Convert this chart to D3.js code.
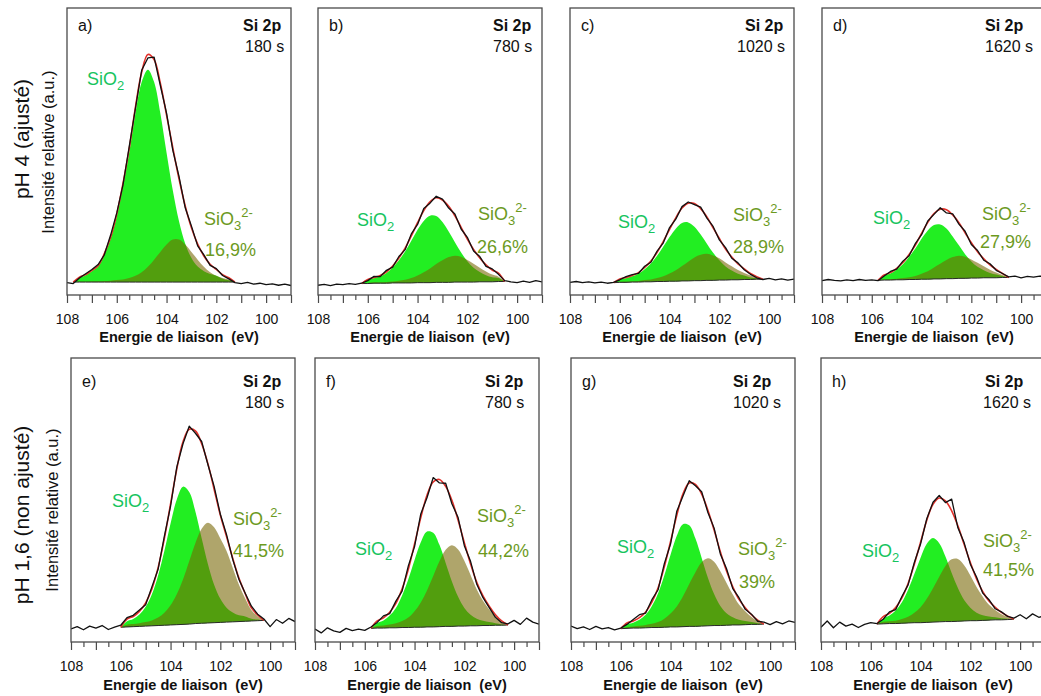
<!DOCTYPE html>
<html><head><meta charset="utf-8">
<script src="https://cdn.jsdelivr.net/npm/d3@7"></script>
<style>
body{margin:0;background:#fff}
svg{display:block;font-family:"Liberation Sans",Arial,sans-serif}
</style>
</head><body>
<svg id="chart" width="1041" height="696"></svg>
<script>
// ---------------- DATA ----------------
const energies = [108,107.75,107.5,107.25,107,106.75,106.5,106.25,106,105.75,105.5,105.25,105,104.75,104.5,104.25,104,103.75,103.5,103.25,103,102.75,102.5,102.25,102,101.75,101.5,101.25,101,100.75,100.5,100.25,100,99.75,99.5,99.25,99];
const xTickLabels = [108,106,104,102,100];
const panelLetters = ['a)','b)','c)','d)','e)','f)','g)','h)'];
const times = ['180 s','780 s','1020 s','1620 s','180 s','780 s','1020 s','1620 s'];
const sio3Pct = ['16,9%','26,6%','28,9%','27,9%','41,5%','44,2%','39%','41,5%'];
const rowLabels = ['pH 4 (ajusté)','pH 1,6 (non ajusté)'];
const yTitle = 'Intensité relative (a.u.)';
const xTitle = 'Energie de liaison  (eV)';
const coreLevel = 'Si 2p';
const fitStart = [107.75,106.25,106.25,105.75,106.0,105.75,106.0,105.75];

// raw spectra (relative intensity, % of frame), one value per energy
const rawA = [4.3,4.0,5.9,7.4,8.9,10.6,14.0,20.8,28.6,38.4,51.7,65.0,78.3,82.6,82.9,73.0,63.4,50.5,41.3,30.4,24.0,17.1,14.0,10.3,9.2,6.8,5.6,4.3,4.0,4.4,3.8,4.1,3.6,3.9,3.4,3.8,3.3];
const rawB = [3.4,3.7,3.3,3.8,3.6,4.0,3.7,4.1,5.0,6.5,6.4,8.6,9.7,13.4,15.8,21.3,24.6,30.1,32.0,34.4,33.4,30.3,28.2,23.0,20.1,15.3,13.4,10.0,9.1,7.2,5.0,4.6,4.3,4.8,4.4,5.0,4.6];
const rawC = [4.4,4.7,4.3,4.6,4.2,4.5,4.1,4.4,5.3,6.4,7.1,7.5,10.0,11.4,15.3,18.2,23.5,26.4,30.8,32.4,31.5,30.6,26.8,23.9,19.2,16.5,12.8,11.2,8.8,7.2,6.0,5.4,5.8,5.3,5.6,5.2,5.5];
const rawD = [5.0,5.4,5.1,4.9,5.3,5.0,5.4,5.1,5.3,5.0,6.6,8.2,9.0,11.8,13.7,17.9,21.0,25.8,28.1,30.4,28.6,28.3,24.7,22.2,17.6,15.5,12.1,10.9,8.6,7.5,6.3,6.6,6.0,6.5,6.2,6.6,6.3];
const rawE = [4.6,5.4,4.3,5.6,4.9,5.8,4.4,5.2,5.9,8.6,9.4,11.3,13.1,19.4,25.6,37.2,47.8,61.6,69.8,76.0,73.5,70.6,62.5,54.8,45.0,37.8,29.0,22.0,17.2,12.6,9.8,8.1,5.4,7.9,6.6,8.3,7.2];
const rawF = [4.6,3.2,5.0,3.9,3.4,4.8,4.0,4.5,4.1,5.3,6.9,9.2,10.0,14.4,17.9,26.8,33.6,45.1,50.8,57.9,56.0,55.9,48.7,43.8,33.9,28.4,20.3,15.6,12.1,8.7,6.8,6.4,7.6,6.2,8.4,7.0,6.3];
const rawG = [5.6,4.7,5.3,4.4,5.5,4.6,5.1,4.3,4.9,6.2,7.9,9.6,10.2,14.9,18.4,27.6,34.5,46.0,51.4,56.8,55.0,52.9,45.6,40.1,31.0,25.8,18.8,15.6,11.5,9.8,7.3,7.0,6.1,7.2,6.4,7.4,6.9];
const rawH = [5.2,7.4,5.0,7.0,5.6,6.3,5.1,6.2,6.8,6.5,8.0,10.6,11.4,16.0,20.1,28.0,34.5,43.4,49.2,51.6,49.1,50.3,40.2,35.0,27.4,22.9,17.2,14.9,11.7,10.6,9.0,8.4,9.6,8.2,9.9,8.7,9.2];

// backgrounds over the fit range (starting at fitStart)
const bgA = [4.5,4.5,4.5,4.5,4.5,4.5,4.5,4.5,4.5,4.5,4.5,4.5,4.5,4.5,4.5,4.5,4.5,4.5,4.5,4.5,4.5,4.5,4.5,4.5,4.5,4.5,4.5];
const bgB = [4.0,4.0,4.1,4.1,4.1,4.2,4.2,4.2,4.2,4.3,4.3,4.3,4.4,4.4,4.4,4.5,4.5,4.5,4.5,4.6,4.6,4.6,4.7,4.7];
const bgC = [4.3,4.4,4.4,4.5,4.5,4.6,4.6,4.7,4.7,4.8,4.8,4.9,4.9,5.0,5.0,5.1,5.1,5.2,5.2,5.3,5.3,5.4,5.4,5.5,5.5];
const bgD = [5.1,5.2,5.2,5.3,5.3,5.4,5.4,5.5,5.5,5.6,5.6,5.7,5.7,5.8,5.8,5.9,5.9,6.0,6.0,6.0,6.1,6.1];
const bgE = [5.2,5.3,5.4,5.5,5.6,5.7,5.8,5.9,6.0,6.1,6.2,6.3,6.5,6.6,6.7,6.8,6.9,7.0,7.1,7.2,7.3,7.4,7.5,7.6];
const bgF = [4.8,4.9,4.9,5.0,5.0,5.1,5.1,5.2,5.2,5.3,5.3,5.4,5.5,5.5,5.6,5.6,5.7,5.7,5.8,5.8,5.9,5.9,6.0];
const bgG = [4.7,4.8,4.9,4.9,5.0,5.1,5.1,5.2,5.3,5.3,5.4,5.5,5.5,5.6,5.7,5.8,5.8,5.9,6.0,6.0,6.1,6.2,6.2,6.3];
const bgH = [6.3,6.4,6.5,6.5,6.6,6.7,6.8,6.8,6.9,7.0,7.1,7.2,7.2,7.3,7.4,7.5,7.5,7.6,7.7,7.8,7.8,7.9,8.0];

// SiO2 component (height above background)
const sio2A = [0,1.5,2.4,3.8,5.4,9.5,15.0,23.0,33.5,45.1,58.8,69.7,74.0,69.7,58.8,45.1,32.0,21.2,13.4,8.4,5.4,3.8,2.8,2.2,1.2,0.6,0];
const sio2B = [0,1.2,1.7,2.4,3.6,5.4,7.9,11.0,14.7,18.4,21.5,23.3,23.1,21.0,17.7,13.9,10.3,7.3,5.0,3.4,2.3,1.6,1.2,0];
const sio2C = [0,1.0,1.4,2.0,2.9,4.4,6.4,9.0,12.2,15.4,18.3,20.2,20.4,18.8,16.1,12.8,9.6,6.9,4.7,3.2,2.1,1.4,0.7,0.3,0];
const sio2D = [0,1.6,2.3,3.6,5.4,7.9,10.8,14.1,17.0,18.8,19.0,17.5,14.7,11.5,8.4,5.8,3.9,2.6,1.7,1.1,0.5,0];
const sio2E = [0,2.0,2.7,4.2,6.8,11.1,17.6,26.1,35.7,44.1,48.5,46.5,39.4,29.9,20.8,13.4,8.3,5.1,3.3,2.2,1.7,0.8,0.4,0];
const sio2F = [0,1.8,2.7,4.3,7.0,11.3,17.0,23.7,29.9,33.6,33.2,28.8,22.3,15.8,10.3,6.4,3.9,2.5,1.7,1.2,0.7,0.3,0];
const sio2G = [0,1.4,1.9,2.9,4.6,7.6,12.1,18.3,25.4,32.1,36.1,35.6,30.9,24.0,16.9,11.1,6.9,4.2,2.7,1.8,1.3,0.8,0.4,0];
const sio2H = [0,1.8,2.8,4.6,7.4,11.7,17.1,22.9,27.7,29.6,27.7,22.9,17.1,11.7,7.4,4.6,2.8,1.8,1.3,0.9,0.6,0.3,0];

// SiO3(2-) component (height above background)
const sio3A = [0,0.2,0.2,0.3,0.3,0.4,0.5,0.7,0.9,1.4,2.2,3.4,5.3,7.8,10.5,13.1,14.8,14.8,13.1,10.5,7.8,5.3,3.4,2.2,1.4,0.9,0];
const sio3B = [0,0.2,0.3,0.3,0.4,0.5,0.8,1.1,1.7,2.5,3.6,4.9,6.4,7.7,8.8,9.2,8.8,7.7,6.4,4.9,3.6,2.5,1.7,0];
const sio3C = [0,0.2,0.3,0.3,0.4,0.6,0.8,1.2,1.8,2.7,3.8,5.2,6.7,8.1,9.0,9.3,8.7,7.6,6.1,4.7,3.4,2.3,1.4,0.6,0];
const sio3D = [0,0.2,0.3,0.4,0.6,0.8,1.2,1.9,2.8,4.0,5.3,6.5,7.5,7.9,7.5,6.5,5.3,4.0,2.8,1.8,0.9,0];
const sio3E = [0,0.8,0.9,1.1,1.4,1.9,2.8,4.4,6.9,10.7,15.8,22.1,28.4,33.3,35.3,33.6,29.5,25.0,19.0,13.0,8.0,3.8,1.6,0];
const sio3F = [0,0.7,0.9,1.2,1.6,2.3,3.5,5.6,8.7,12.8,17.9,23.0,27.0,28.6,27.0,23.0,17.9,12.8,8.7,5.6,3.0,1.2,0];
const sio3G = [0,0.5,0.6,0.8,1.0,1.3,1.9,3.0,4.7,7.2,10.7,14.9,19.1,22.5,23.8,22.5,19.1,14.9,10.7,7.2,4.7,2.6,1.1,0];
const sio3H = [0,0.7,0.8,1.0,1.5,2.2,3.5,5.4,8.3,11.9,15.9,19.6,21.9,21.9,19.6,15.9,11.9,8.3,5.4,3.5,2.0,0.9,0];

const raws = [rawA,rawB,rawC,rawD,rawE,rawF,rawG,rawH];
const bgs = [bgA,bgB,bgC,bgD,bgE,bgF,bgG,bgH];
const sio2s = [sio2A,sio2B,sio2C,sio2D,sio2E,sio2F,sio2G,sio2H];
const sio3s = [sio3A,sio3B,sio3C,sio3D,sio3E,sio3F,sio3G,sio3H];

// ---------------- LAYOUT / STYLE ----------------
const rows = [
  {top:8, bottom:295, lefts:[67,318,570,822], letterDy:23, timeDy:44, titleY:342,
   pHx:29, pHy:139, intX:54, intY:152},
  {top:358, bottom:642, lefts:[71,315,571,821], letterDy:29, timeDy:50, titleY:690,
   pHx:29, pHy:515, intX:58, intY:510}
];
const frameW = 224;
const infoX = [[176,178],[175,175],[175,167],[163,163],[172,174],[170,170],[162,162],[164,162]];
const labelPos = [
  {s2:[20,77], s3:[137,217], pc:[138,248]},
  {s2:[39,218], s3:[160,212], pc:[159,245]},
  {s2:[48,220], s3:[163,213], pc:[163,245]},
  {s2:[51,216], s3:[160,212], pc:[158,240]},
  {s2:[41,149], s3:[162,167], pc:[162,199]},
  {s2:[40,197], s3:[162,164], pc:[163,199]},
  {s2:[46,195], s3:[167,197], pc:[168,230]},
  {s2:[41,199], s3:[162,189], pc:[162,218]}
];
const C = {
  frame:'#4a4a4a', green:'#22ee22', olive:'rgb(118,100,0)', oliveOp:0.58,
  raw:'#111', fit:'#e3302a', bg:'#2a2a2a', sio2Text:'#16c45e', sio3Text:'#6c9a1e'
};

const svg = d3.select('#chart');
const defs = svg.append('defs');

// row labels
rows.forEach((r, ri) => {
  svg.append('text').attr('transform', `translate(${r.pHx},${r.pHy}) rotate(-90)`)
    .attr('text-anchor','middle').attr('font-size',21).attr('fill','#111').text(rowLabels[ri]);
  svg.append('text').attr('transform', `translate(${r.intX},${r.intY}) rotate(-90)`)
    .attr('text-anchor','middle').attr('font-size',16.5).attr('fill','#111').text(yTitle);
});

for (let p = 0; p < 8; p++) {
  const r = rows[Math.floor(p/4)];
  const L = r.lefts[p%4];
  const T = r.top, B = r.bottom;
  const x = d3.scaleLinear().domain([108, 99]).range([L, L + frameW]);
  const y = d3.scaleLinear().domain([0, 100]).range([B, T]);
  const g = svg.append('g');

  defs.append('clipPath').attr('id','clip'+p).append('rect')
    .attr('x',L).attr('y',T).attr('width',frameW).attr('height',B-T);
  const plot = g.append('g').attr('clip-path',`url(#clip${p})`);

  const s0 = energies.indexOf(fitStart[p]);
  const comp = bgs[p].map((b,j) => ({
    e: energies[s0+j], bg: b, s2: b + sio2s[p][j], s3: b + sio3s[p][j],
    env: b + sio2s[p][j] + sio3s[p][j]
  }));
  const rawPts = raws[p].map((v,i) => ({e: energies[i], v}));

  const curve = d3.curveCatmullRom.alpha(0.5);
  plot.append('path').datum(comp)
    .attr('d', d3.area().curve(curve).x(d=>x(d.e)).y0(d=>y(d.bg)).y1(d=>y(d.s2)))
    .attr('fill', C.green);
  plot.append('path').datum(comp)
    .attr('d', d3.area().curve(curve).x(d=>x(d.e)).y0(d=>y(d.bg)).y1(d=>y(d.s3)))
    .attr('fill', C.olive).attr('fill-opacity', C.oliveOp);
  plot.append('path').datum(comp)
    .attr('d', d3.line().x(d=>x(d.e)).y(d=>y(d.bg)))
    .attr('fill','none').attr('stroke',C.bg).attr('stroke-width',1);
  plot.append('path').datum(comp)
    .attr('d', d3.line().curve(curve).x(d=>x(d.e)).y(d=>y(d.env)))
    .attr('fill','none').attr('stroke',C.fit).attr('stroke-width',1.6);
  plot.append('path').datum(rawPts)
    .attr('d', d3.line().x(d=>x(d.e)).y(d=>y(d.v)))
    .attr('fill','none').attr('stroke',C.raw).attr('stroke-width',1.3).attr('stroke-linejoin','round');

  // frame
  g.append('rect').attr('x',L).attr('y',T).attr('width',frameW).attr('height',B-T)
    .attr('fill','none').attr('stroke',C.frame).attr('stroke-width',1.3);

  // axes
  const minorAxis = d3.axisBottom(x).tickValues(d3.range(99.5, 108, 1)).tickSize(5).tickFormat('');
  const majorAxis = d3.axisBottom(x).tickValues(d3.range(99, 108.5, 1)).tickSize(8).tickPadding(11)
    .tickFormat(d => xTickLabels.includes(d) ? d : '');
  [minorAxis, majorAxis].forEach(ax => {
    const a = g.append('g').attr('transform',`translate(0,${B})`).call(ax);
    a.select('.domain').remove();
    a.selectAll('line').attr('stroke',C.frame).attr('stroke-width',1.2);
    a.selectAll('text').attr('font-size',14).attr('fill','#111')
      .attr('font-family','"Liberation Sans",Arial,sans-serif');
  });
  g.append('text').attr('x', L + frameW/2).attr('y', r.titleY).attr('text-anchor','middle')
    .attr('font-size',14.5).attr('font-weight','bold').attr('fill','#111')
    .style('white-space','pre').text(xTitle);

  // panel texts
  g.append('text').attr('x',L+11).attr('y',T+r.letterDy).attr('font-size',16).attr('fill','#111').text(panelLetters[p]);
  g.append('text').attr('x',L+infoX[p][0]).attr('y',T+r.letterDy).attr('font-size',16)
    .attr('font-weight','bold').attr('fill','#111').text(coreLevel);
  g.append('text').attr('x',L+infoX[p][1]).attr('y',T+r.timeDy).attr('font-size',16).attr('fill','#111').text(times[p]);

  const lp = labelPos[p];
  const t2 = g.append('text').attr('x',L+lp.s2[0]).attr('y',T+lp.s2[1]).attr('font-size',18).attr('fill',C.sio2Text);
  t2.append('tspan').text('SiO');
  t2.append('tspan').attr('dy',5).attr('font-size',13).text('2');
  const t3 = g.append('text').attr('x',L+lp.s3[0]).attr('y',T+lp.s3[1]).attr('font-size',18).attr('fill',C.sio3Text);
  t3.append('tspan').text('SiO');
  t3.append('tspan').attr('dy',5).attr('font-size',13).text('3');
  t3.append('tspan').attr('dy',-13).attr('font-size',13).text('2-');
  g.append('text').attr('x',L+lp.pc[0]).attr('y',T+lp.pc[1]).attr('font-size',18).attr('fill',C.sio3Text).text(sio3Pct[p]);
}
</script>
</body></html>
